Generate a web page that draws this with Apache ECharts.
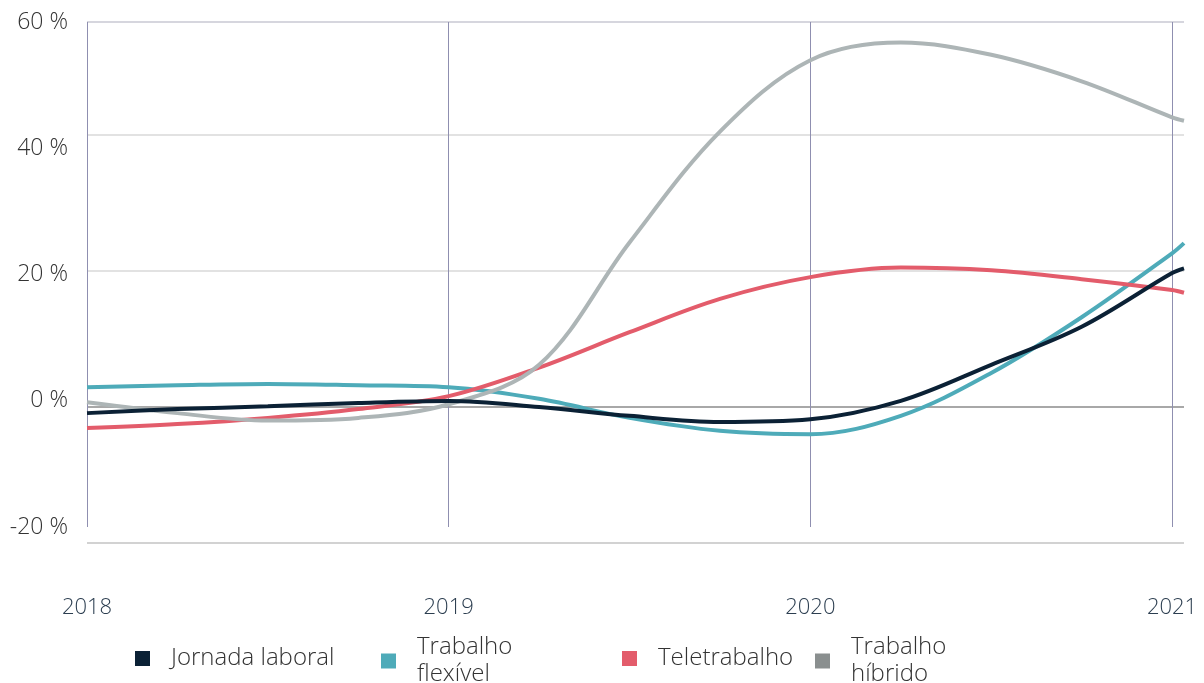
<!DOCTYPE html>
<html>
<head>
<meta charset="utf-8">
<script src="https://cdn.jsdelivr.net/npm/echarts@6/dist/echarts.min.js"></script>
<style>
  html, body { margin: 0; padding: 0; background: #fff; }
  #chart { width: 1204px; height: 683px; }
</style>
</head>
<body>
<div id="chart"></div>
<script>
// sample positions (years), last point runs a little past 2021
var years = [2018, 2018.25, 2018.5, 2018.75, 2019, 2019.25, 2019.5, 2019.75, 2020, 2020.25, 2020.5, 2020.75, 2021, 2021.033];
var yearTicks = ["2018", "2019", "2020", "2021"];
var seriesNames = ["Jornada laboral", "Trabalho flexível", "Teletrabalho", "Trabalho híbrido"];

var jornada  = [-0.9, -0.3, 0.1, 0.6, 0.9, 0.0, -1.3, -2.2, -1.8, 0.9, 6.2, 11.8, 19.7, 20.4];
var flexivel = [2.9, 3.2, 3.4, 3.2, 2.9, 1.2, -1.6, -3.5, -4.0, -1.3, 5.0, 13.2, 22.6, 24.1];
var tele     = [-3.1, -2.5, -1.6, -0.3, 1.6, 5.8, 11.0, 15.9, 19.1, 20.5, 20.1, 18.8, 17.2, 16.8];
var hibrido  = [0.7, -0.9, -2.0, -1.6, 0.4, 6.2, 24.2, 40.5, 51.0, 53.6, 51.8, 47.9, 42.6, 42.1];

var lineColors = ["#0b2135", "#4eabb9", "#e35c6b", "#adb5b6"];
var iconColors = ["#0b2135", "#4eabb9", "#e35c6b", "#8a8f8f"];

function pairs(vals) {
  return vals.map(function (v, i) { return [years[i], v]; });
}

var font = "'Open Sans', 'Noto Sans', sans-serif";

function legendFor(i, left, top) {
  return {
    left: left,
    top: top,
    icon: "rect",
    itemWidth: 15,
    itemHeight: 15,
    selectedMode: false,
    data: [{ name: seriesNames[i], itemStyle: { color: iconColors[i] } }],
    formatter: function (n) { return n.replace(/^Trabalho /, "Trabalho\n"); },
    textStyle: {
      fontFamily: font, fontWeight: 300, fontSize: 24, color: "#333",
      lineHeight: 27, padding: [0, 0, 0, 16]
    }
  };
}

var chartDom = document.getElementById("chart");
var myChart = echarts.init(chartDom);
var option;
option = {
  animation: false,
  backgroundColor: "#fff",
  grid: [
    { left: 87, right: 20, top: 22, bottom: 140 },
    { left: 87, right: 32, top: 22, bottom: 156 }
  ],
  xAxis: [
    {
      gridIndex: 0, type: "value", min: 2018, max: 2021.033, show: false
    },
    {
      gridIndex: 1, type: "value", min: 2018, max: 2021, interval: 1,
      axisLine: { show: false }, axisTick: { show: false },
      axisLabel: {
        margin: 70, fontFamily: font, fontWeight: 300, fontSize: 22, color: "#2c3e50",
        formatter: function (v) { return yearTicks[Math.round(v - 2018)] || ""; }
      },
      splitLine: { show: true, lineStyle: { color: "#8f8fb0", width: 1 } }
    }
  ],
  yAxis: [
    {
      gridIndex: 0, type: "value", min: -20, max: 56.62, interval: 20,
      axisLine: { show: false }, axisTick: { show: false }, axisLabel: { show: false },
      splitLine: {
        show: true,
        lineStyle: { width: 2, color: ["#d2d2d2", "#a8a8a8", "#e2e2e2", "#e2e2e2", "#d6d6de"] }
      }
    },
    {
      gridIndex: 1, type: "value", min: -20, max: 60, interval: 20,
      axisLine: { show: false }, axisTick: { show: false }, splitLine: { show: false },
      axisLabel: {
        margin: 19, fontFamily: font, fontWeight: 300, fontSize: 23, color: "#333",
        formatter: "{value} %"
      }
    }
  ],
  legend: [
    legendFor(0, 130, 640),
    legendFor(1, 376, 629),
    legendFor(2, 617, 640),
    legendFor(3, 810, 629)
  ],
  series: [jornada, flexivel, tele, hibrido].map(function (vals, i) {
    return {
      name: seriesNames[i],
      type: "line",
      xAxisIndex: 0,
      yAxisIndex: 0,
      smooth: 0.35,
      showSymbol: false,
      symbol: "none",
      z: i === 0 ? 5 : 3,
      itemStyle: { color: iconColors[i] },
      lineStyle: { color: lineColors[i], width: 4 },
      data: pairs(vals)
    };
  })
};

option && myChart.setOption(option);
</script>
</body>
</html>
